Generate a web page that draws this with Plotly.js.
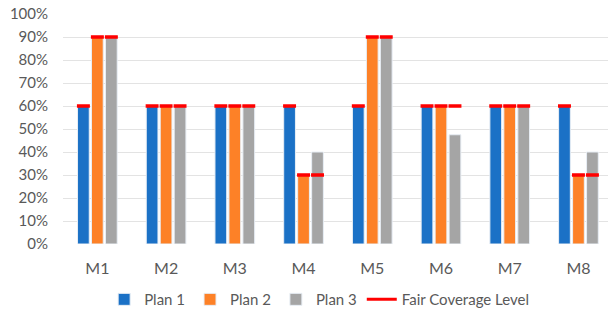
<!DOCTYPE html>
<html><head><meta charset="utf-8">
<script src="https://cdn.plot.ly/plotly-3.0.1.min.js"></script>
<style>html,body{margin:0;padding:0;background:#fff}#chart{width:608px;height:310px}</style>
</head><body><div id="chart"></div>
<script>
const categories = ['M1','M2','M3','M4','M5','M6','M7','M8'];
const plan1 = [60,60,60,60,60,60,60,60];
const plan2 = [90,60,60,30,90,60,60,30];
const plan3 = [90,60,60,40,90,47.5,60,40];
const fair1 = [60,60,60,60,60,60,60,60];
const fair2 = [90,60,60,30,90,60,60,30];
const fair3 = [90,60,60,30,90,60,60,30];
const yTicks = [0,10,20,30,40,50,60,70,80,90,100];
const yTickText = yTicks.map(v => v + '%');

const colors = ['#1b71c6','#fd8127','#a5a5a5'];
const names = ['Plan 1','Plan 2','Plan 3'];
const plans = [plan1, plan2, plan3];
const fairs = [fair1, fair2, fair3];
const markH = 0.9;

const traces = [];
plans.forEach((vals, i) => {
  traces.push({type:'bar', x:categories, y:vals, name:names[i], offsetgroup:'g'+i,
    marker:{color:colors[i], line:{color:'#e8eef5', width:1}}, hoverinfo:'skip'});
});
fairs.forEach((vals, i) => {
  traces.push({type:'bar', x:categories, y:vals.map(() => markH), base:vals.map(v => v - markH/2),
    offsetgroup:'g'+i, showlegend:false, marker:{color:'#ff0000', line:{color:'#ff0000', width:1.2}}, hoverinfo:'skip'});
});
traces.push({type:'scatter', mode:'lines', x:[null], y:[null], name:'Fair Coverage Level',
  line:{color:'#ff0000', width:3}});

const layout = {
  width:608, height:310,
  margin:{l:63, r:0, t:14, b:66, autoexpand:false},
  paper_bgcolor:'#fff', plot_bgcolor:'#fff',
  font:{family:'Lato, sans-serif', color:'#595959', size:15},
  barmode:'group', bargap:0.39, bargroupgap:0.16,
  xaxis:{type:'category', range:[-0.5, 7.43], showgrid:false, zeroline:false, showline:false,
    ticks:'', ticklabelstandoff:13, tickfont:{size:16, color:'#595959'}, fixedrange:true},
  yaxis:{range:[0,100], tickvals:yTicks, ticktext:yTickText, showgrid:true, gridcolor:'#e3e3e3',
    gridwidth:1, zeroline:false, showline:false, ticks:'', ticklabelstandoff:14,
    tickfont:{size:15, color:'#595959'}, fixedrange:true},
  legend:{orientation:'h', x:0.47, xanchor:'center', y:-0.17, yanchor:'top',
    font:{size:15, color:'#595959'}, traceorder:'normal', itemwidth:30},
  showlegend:true
};
Plotly.newPlot('chart', traces, layout, {displayModeBar:false, staticPlot:true});
</script></body></html>
